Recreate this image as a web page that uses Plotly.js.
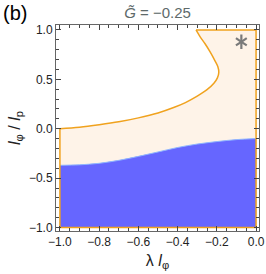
<!DOCTYPE html>
<html>
<head>
<meta charset="utf-8">
<script src="https://cdn.plot.ly/plotly-3.0.1.min.js"></script>
<style>html,body{margin:0;padding:0;background:#fff;}#chart{width:266px;height:274px;}</style>
</head>
<body>
<div id="chart"></div>
<script>
// Orange boundary curve (from (-1,0) up to the top edge)
const curveX = [-1, -0.9, -0.8, -0.7, -0.6, -0.5, -0.42, -0.36, -0.3, -0.25, -0.215, -0.197, -0.19, -0.195, -0.21, -0.235, -0.26, -0.285, -0.306];
const curveY = [0, 0.015, 0.04, 0.07, 0.11, 0.16, 0.215, 0.265, 0.33, 0.395, 0.46, 0.515, 0.57, 0.63, 0.69, 0.78, 0.86, 0.93, 1.0];
// Blue region upper boundary
const blueX = [-1, -0.9, -0.8, -0.7, -0.6, -0.5, -0.4, -0.3, -0.2, -0.1, 0];
const blueY = [-0.37, -0.365, -0.35, -0.32, -0.28, -0.235, -0.19, -0.155, -0.13, -0.11, -0.10];
// Region corners
const xMin = -1, xMax = 0, yMin = -1, yMax = 1;
// Marker
const starX = [-0.075];
const starY = [0.88];

const orangeX = [xMin].concat(curveX, [xMax, xMax, xMin]);
const orangeY = [yMin].concat(curveY, [yMax, yMin, yMin]);
const blueFillX = [xMin].concat(blueX, [xMax, xMin]);
const blueFillY = [yMin].concat(blueY, [yMin, yMin]);
const frameX = [curveX[curveX.length - 1], xMax, xMax, xMin, xMin];
const frameY = [yMax, yMax, yMin, yMin, curveY[0]];

const starMarker = (sym) => ({x: starX, y: starY, mode: 'markers', marker: {symbol: sym, size: 9, color: '#7A7A7A', line: {width: 2.2, color: '#7A7A7A'}}, hoverinfo: 'skip'});

const traces = [
  {x: orangeX, y: orangeY, mode: 'lines', fill: 'toself', fillcolor: '#FEF3E8', line: {width: 0, color: 'rgba(0,0,0,0)'}, hoverinfo: 'skip'},
  {x: blueFillX, y: blueFillY, mode: 'lines', fill: 'toself', fillcolor: '#6666FF', line: {width: 0, color: 'rgba(0,0,0,0)'}, hoverinfo: 'skip'},
  {x: blueX, y: blueY, mode: 'lines', line: {width: 1, color: '#8FB6FF', shape: 'spline'}, hoverinfo: 'skip'},
  {x: curveX, y: curveY, mode: 'lines', line: {width: 1.5, color: '#F0A21E', shape: 'spline', smoothing: 1}, hoverinfo: 'skip'},
  {x: frameX, y: frameY, mode: 'lines', line: {width: 1.5, color: '#F0A21E'}, hoverinfo: 'skip'},
  starMarker('y-up-open'),
  starMarker('y-down-open')
];

const axisCommon = {
  showgrid: false, zeroline: false, showline: true, linecolor: '#666', linewidth: 1,
  mirror: 'allticks', ticks: 'inside', ticklen: 5, tickcolor: '#444', tickwidth: 1,
  tickfont: {size: 12, color: '#222'}, tickformat: '.1f'
};

const layout = {
  width: 266, height: 274,
  margin: {l: 56, r: 7, t: 25, b: 43},
  paper_bgcolor: '#fff', plot_bgcolor: '#fff',
  font: {family: 'Liberation Sans, Arial, sans-serif'},
  showlegend: false,
  title: {text: '<i>G\u0303</i> = \u22120.25', font: {size: 15, color: '#5E6A6A'}, x: 0.5, xref: 'paper', y: 0.955, yanchor: 'middle'},
  xaxis: Object.assign({}, axisCommon, {
    range: [-1.02, 0.015], dtick: 0.2, tick0: 0,
    minor: {dtick: 0.05, ticks: 'inside', ticklen: 3, tickcolor: '#444'},
    title: {text: '\u03BB <i>l</i><sub>\u03C6</sub>', font: {size: 16, color: '#222'}, standoff: 6}
  }),
  yaxis: Object.assign({}, axisCommon, {
    range: [-1.035, 1.05], dtick: 0.5, tick0: 0,
    minor: {dtick: 0.1, ticks: 'inside', ticklen: 3, tickcolor: '#444'},
    title: {text: '<i>l</i><sub>\u03C6</sub> / <i>l</i><sub>p</sub>', font: {size: 16, color: '#222'}, standoff: 4}
  }),
  annotations: [
    {text: '(b)', xref: 'paper', yref: 'paper', x: -0.27, y: 1.06, xanchor: 'left', yanchor: 'middle', showarrow: false, font: {size: 20, color: '#000'}}
  ]
};

Plotly.newPlot('chart', traces, layout, {staticPlot: true, displayModeBar: false});
</script>
</body>
</html>
